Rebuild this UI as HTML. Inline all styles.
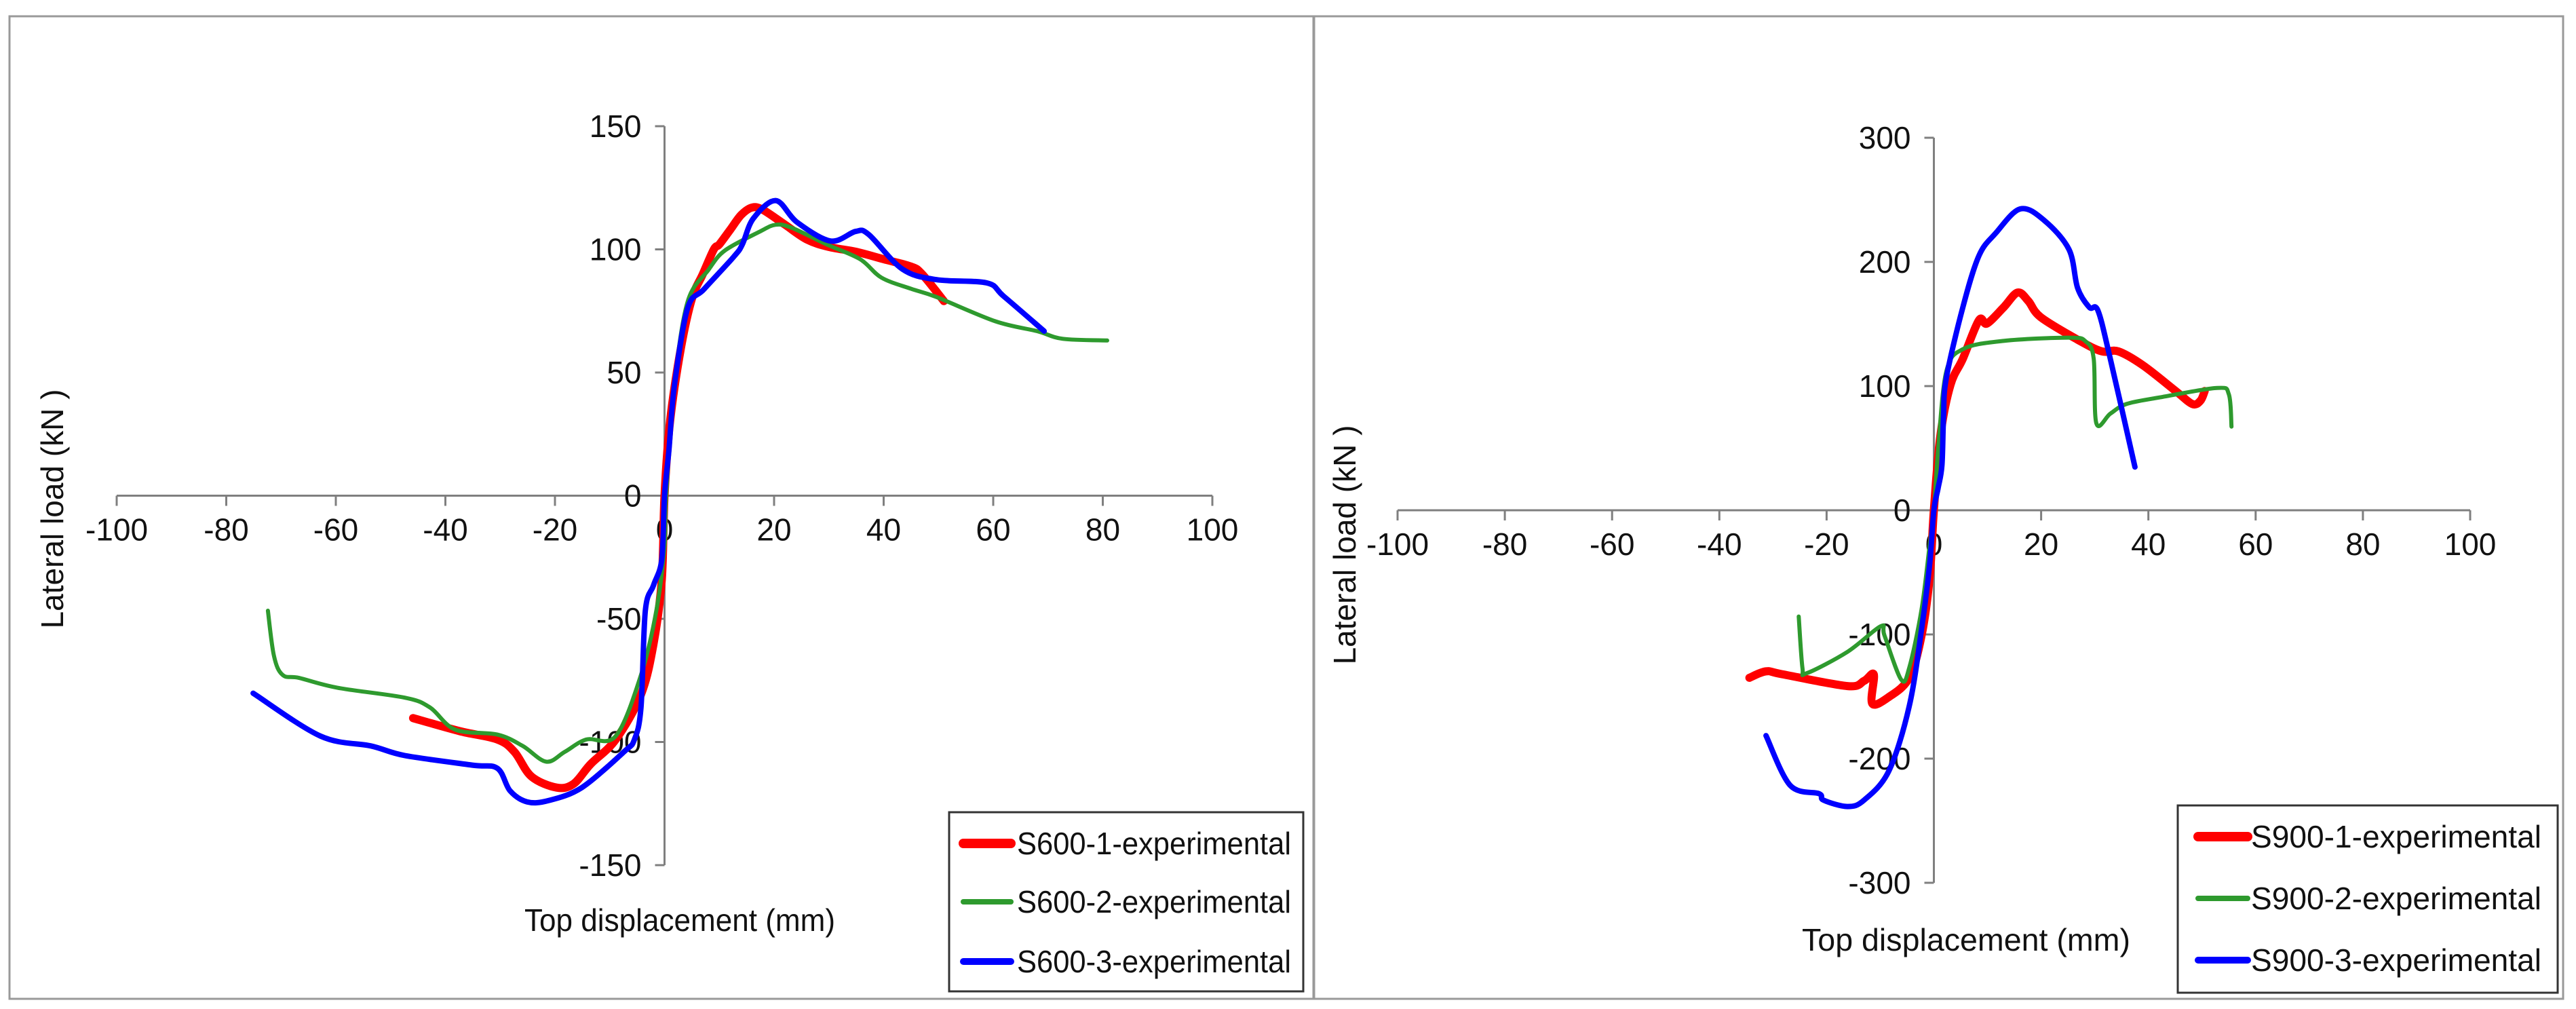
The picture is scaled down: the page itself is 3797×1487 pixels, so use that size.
<!DOCTYPE html>
<html><head><meta charset="utf-8"><style>
html,body{margin:0;padding:0;background:#fff;}
svg{display:block;font-family:"Liberation Sans",Arial,sans-serif;}
</style></head><body>
<svg id="s" width="3797" height="1487" viewBox="0 0 3797 1487" xmlns="http://www.w3.org/2000/svg">
<rect x="14" y="24" width="1922" height="1448" fill="#fff" stroke="#999" stroke-width="3"/>
<rect x="1937" y="24" width="1841" height="1448" fill="#fff" stroke="#999" stroke-width="3"/>
</svg>
<script>
const ticksX=[-100,-80,-60,-40,-20,0,20,40,60,80,100];
const ticksYL=[-150,-100,-50,0,50,100,150];
const ticksYR=[-300,-200,-100,0,100,200,300];
const namesL=["S600-1-experimental","S600-2-experimental","S600-3-experimental"];
const namesR=["S900-1-experimental","S900-2-experimental","S900-3-experimental"];
const s600_1_x=[-45.9,-37.4,-30.5,-27.4,-24.3,-19.7,-16.6,-13.5,-8.9,-4.3,-2,-0.5,0,1,3,5,7,9,10,12,14,16,18,22,26,30,35,40,45,47,51];
const s600_1_y=[-90.3,-95.6,-99,-104,-114,-118.5,-117,-109,-99,-80.7,-60,-34,0,30,60,80,90,100,102,108,114,117,116,110,104,101,99,96,93,90,79];
const s600_2_x=[-72.4,-71.3,-69.7,-66.7,-59.7,-47.4,-42.8,-38.2,-30.5,-25.9,-21.6,-18.2,-14.3,-8.9,-4.3,-1.5,0,0.3,1.8,4.2,8,11,17.2,20.3,23.4,29.6,35.7,39.6,45,49.6,60.4,68,72.7,80.8];
const s600_2_y=[-46.7,-65,-72.8,-74,-78,-82,-86,-95,-97,-101.6,-108,-104,-99,-97.6,-72.8,-46.7,-20.6,0,44.6,78.6,91.6,99.5,107,110,108.6,102,96,88.5,84,80.7,70.8,66.8,63.7,63];
const s600_3_x=[-75.1,-62.8,-53.6,-47.4,-35.1,-30.5,-28.2,-25.1,-21.2,-15.1,-7.4,-5.5,-4.3,-3.5,-2,-0.5,0,0.8,1.8,4.2,7.2,12.6,14.2,16.2,20.3,24.2,30.3,34.9,37.3,43.4,49.6,58.8,61.9,69.3];
const s600_3_y=[-80.2,-97.6,-101.6,-105.5,-109.4,-110.7,-119.8,-124.3,-123.8,-118.5,-104,-99,-86,-46.7,-36.3,-25.8,0,18.5,44.6,76,83.8,96.9,102,112.5,119.8,111,103.4,107.3,106,92,87.7,86.4,81,66.8];
const s900_1_x=[-34.4,-31.3,-28.3,-16.1,-13,-11.2,-11.5,-8.4,-4.6,-2.3,-0.8,0,1.2,3.1,5.4,8.4,9.9,13,15.6,17.6,19.9,26.8,31.3,34.4,39,45.1,48.2,49.7,50.5];
const s900_1_y=[-134.9,-129.7,-132,-141.6,-137.4,-132.3,-155.6,-150.4,-134.9,-101,-54.5,0,59.6,101,122,153,150.4,163.4,175.3,168.6,155.6,137.4,128,128,116.7,96,85.6,88.2,96];
const s900_2_x=[-25.2,-24.5,-23.7,-16.1,-9.9,-9.2,-6.1,-4.6,-2.3,-0.8,0,0.8,2.3,5.4,13,25.2,28.3,29.8,30.3,32.9,35.9,42,52.8,55,55.5];
const s900_2_y=[-85.6,-127,-131.2,-114,-93.4,-101,-136.4,-127,-80,-28.5,0,49,111.5,129.7,136.4,139,136,122,70,77.8,85.6,90.8,98.5,93.4,67.4];
const s900_3_x=[-31.3,-26.8,-21.4,-20.6,-16.1,-13,-8.4,-4.6,-2.3,-0.8,0,0.8,1.5,1.8,2.3,5.4,8.4,11.5,16.1,20.6,25.2,26.8,29,30.6,32.9,37.5];
const s900_3_y=[-181.5,-221.5,-228.2,-233.4,-238.6,-233.4,-210,-158,-96,-44,0,18,36.3,75,106,163.4,204.9,223,242.7,233.4,210,179,163.4,160.8,121.9,34.8];

const NS="http://www.w3.org/2000/svg";
const svg=document.getElementById('s');
function mk(tag,attrs,parent){const e=document.createElementNS(NS,tag);for(const k in attrs)e.setAttribute(k,attrs[k]);(parent||svg).appendChild(e);return e;}
function smooth(P){
  let d='M'+P[0][0].toFixed(1)+','+P[0][1].toFixed(1);
  const t=0.25;
  for(let i=0;i<P.length-1;i++){
    const p0=P[i-1]||P[i],p1=P[i],p2=P[i+1],p3=P[i+2]||p2;
    const c1=[p1[0]+(p2[0]-p0[0])*t*0.66,p1[1]+(p2[1]-p0[1])*t*0.66];
    const c2=[p2[0]-(p3[0]-p1[0])*t*0.66,p2[1]-(p3[1]-p1[1])*t*0.66];
    d+=` C${c1[0].toFixed(1)},${c1[1].toFixed(1)} ${c2[0].toFixed(1)},${c2[1].toFixed(1)} ${p2[0].toFixed(1)},${p2[1].toFixed(1)}`;
  }
  return d;
}

function chart(cfg){
  const X=v=>cfg.x0+(v-cfg.xmin)*(cfg.x1-cfg.x0)/(cfg.xmax-cfg.xmin);
  const Y=v=>cfg.y0-(v-cfg.ymin)*(cfg.y0-cfg.y1)/(cfg.ymax-cfg.ymin);
  const g=mk('g',{});
  
  
  const ax=X(0), ay=Y(0);
  const xa=mk('line',{x1:X(cfg.xmin),x2:X(cfg.xmax),y1:ay,y2:ay,stroke:'#7f7f7f','stroke-width':3},g);
  
  
  const ya=mk('line',{x1:ax,x2:ax,y1:Y(cfg.ymin),y2:Y(cfg.ymax),stroke:'#7f7f7f','stroke-width':3},g);
  
  
  ticksX.forEach(t=>{
    const tk=mk('line',{x1:X(t),x2:X(t),y1:ay,y2:ay+15,stroke:'#7f7f7f','stroke-width':3},g);
    
    
    const tx=mk('text',{x:X(t),y:ay+66,'font-size':46,'text-anchor':'middle',fill:'#111'},g);
    tx.textContent=t;
    
    
  });
  cfg.ticksY.forEach(t=>{
    const tk=mk('line',{x1:ax-14,x2:ax,y1:Y(t),y2:Y(t),stroke:'#7f7f7f','stroke-width':3},g);
    
    
    const tx=mk('text',{x:ax-34,y:Y(t)+16,'font-size':46,'text-anchor':'end',fill:'#111'},g);
    tx.textContent=t;
    
    
  });
  const colors=['#ff0000','#2e9a2e','#0000ff'], widths=[12,6,8];
  cfg.series.forEach((sr,i)=>{
    const P=sr[0].map((v,k)=>[X(v),Y(sr[1][k])]);
    const pl=mk('path',{d:smooth(P),fill:'none',stroke:colors[i],'stroke-width':widths[i],'stroke-linejoin':'round','stroke-linecap':'round'},g);
    
    
  });
  const xt=mk('text',{x:cfg.xt[0],y:cfg.xt[1],'font-size':46,fill:'#111',textLength:cfg.xt[2],lengthAdjust:'spacingAndGlyphs'},g);
  xt.textContent='Top displacement (mm)';
  
  
  const yt=mk('text',{x:0,y:0,'font-size':46,fill:'#111','text-anchor':'middle',transform:`translate(${cfg.yt[0]},${cfg.yt[1]}) rotate(-90)`},g);
  yt.textContent='Lateral load (kN )';
  
  
  const L=cfg.leg;
  const lg=mk('g',{},g);
  
  
  mk('rect',{x:L.x,y:L.y,width:L.w,height:L.h,fill:'#fff',stroke:'#333','stroke-width':3},lg);
  cfg.names.forEach((n,i)=>{
    const ly=L.rows[i];
    mk('line',{x1:L.lx1,x2:L.lx2,y1:ly,y2:ly,stroke:colors[i],'stroke-width':widths[i]+2,'stroke-linecap':'round'},lg);
    const t=mk('text',{x:L.tx,y:ly+16,'font-size':46,fill:'#111',textLength:L.tw,lengthAdjust:'spacingAndGlyphs'},lg);
    t.textContent=n;
    
    
  });
}
chart({id:'s600',x0:172,x1:1787,xmin:-100,xmax:100,y0:1275,y1:186,ymin:-150,ymax:150,ticksY:ticksYL,names:namesL,
  series:[[s600_1_x,s600_1_y],[s600_2_x,s600_2_y],[s600_3_x,s600_3_y]],
  xt:[773,1372,458],yt:[93,750],
  leg:{x:1399,y:1197,w:522,h:264,rows:[1243,1329,1417],lx1:1420,lx2:1490,tx:1499,tw:404}});
chart({id:'s900',x0:2060,x1:3641,xmin:-100,xmax:100,y0:1301,y1:203,ymin:-300,ymax:300,ticksY:ticksYR,names:namesR,
  series:[[s900_1_x,s900_1_y],[s900_2_x,s900_2_y],[s900_3_x,s900_3_y]],
  xt:[2656,1401,484],yt:[1998,803],
  leg:{x:3210,y:1187,w:560,h:276,rows:[1233,1324,1415],lx1:3240,lx2:3313,tx:3318,tw:428}});
</script>
</body></html>
